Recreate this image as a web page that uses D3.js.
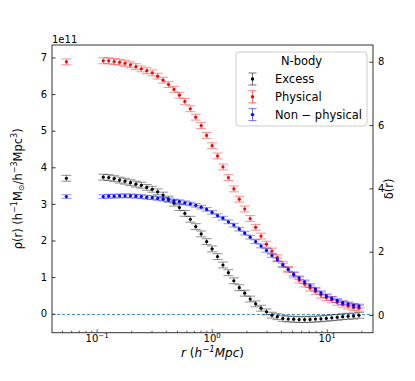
<!DOCTYPE html>
<html>
<head>
<meta charset="utf-8">
<script src="https://cdn.jsdelivr.net/npm/d3@7"></script>
<style>
  body { margin: 0; background: #fff; }
  text { font-family: "DejaVu Sans", sans-serif; fill: #000; }
</style>
</head>
<body>
<div id="chart"></div>
<script>
// radial bins (h^-1 Mpc)
var radii = [0.1130, 0.1260, 0.1405, 0.1566, 0.1747, 0.1948, 0.2172, 0.2422, 0.2700, 0.3011,
  0.3357, 0.3743, 0.4174, 0.4654, 0.5190, 0.5787, 0.6453, 0.7195, 0.8023, 0.8946,
  0.9977, 1.1125, 1.2405, 1.3832, 1.5423, 1.7198, 1.9177, 2.1384, 2.3844, 2.6588,
  2.9648, 3.3059, 3.6862, 4.1105, 4.5834, 5.1108, 5.6989, 6.3546, 7.0858, 7.9012,
  8.8105, 9.8243, 10.955, 12.215, 13.621, 15.188, 16.935, 18.884];

// densities in units of 1e11
var excess = [3.73, 3.72, 3.69, 3.65, 3.62, 3.58, 3.54, 3.51, 3.45, 3.40,
  3.33, 3.24, 3.13, 3.02, 2.90, 2.74, 2.58, 2.38, 2.18, 1.97,
  1.77, 1.56, 1.33, 1.12, 0.90, 0.71, 0.56, 0.40, 0.27, 0.15,
  0.05, -0.04, -0.08, -0.13, -0.145, -0.15, -0.16, -0.16, -0.155, -0.145,
  -0.14, -0.125, -0.11, -0.10, -0.08, -0.07, -0.065, -0.045];

var physical = [6.91, 6.91, 6.89, 6.87, 6.84, 6.80, 6.75, 6.69, 6.64, 6.58,
  6.49, 6.38, 6.26, 6.13, 5.97, 5.80, 5.60, 5.37, 5.14, 4.87,
  4.59, 4.31, 4.01, 3.72, 3.41, 3.13, 2.86, 2.60, 2.36, 2.12,
  1.90, 1.71, 1.53, 1.35, 1.21, 1.06, 0.92, 0.81, 0.70, 0.61,
  0.51, 0.44, 0.38, 0.31, 0.26, 0.21, 0.17, 0.15];

var nonPhysical = [3.20, 3.21, 3.21, 3.22, 3.22, 3.22, 3.21, 3.20, 3.18, 3.17,
  3.15, 3.13, 3.11, 3.08, 3.06, 3.03, 3.00, 2.96, 2.91, 2.85,
  2.77, 2.68, 2.61, 2.51, 2.42, 2.31, 2.20, 2.09, 1.97, 1.85,
  1.73, 1.59, 1.47, 1.33, 1.21, 1.08, 0.98, 0.87, 0.77, 0.67,
  0.57, 0.49, 0.42, 0.36, 0.30, 0.27, 0.23, 0.21];

// innermost bin, drawn apart
var innerR = 0.054;
var innerValues = [3.70, 6.88, 3.20];

var seriesNames = ["Excess", "Physical", "Non \u2212 physical"];
var seriesErr = [0.08, 0.08, 0.05];

var leftTicks = [0, 1, 2, 3, 4, 5, 6, 7];
var rightTicks = [0, 2, 4, 6, 8];
var xMajor = [0.1, 1, 10];
var xMajorExp = ["\u22121", "0", "1"];

var w = 415, h = 381;
var plotL = 52, plotR = 373, plotT = 45, plotB = 332.7;
var colors = ["#000000", "#ff0000", "#0000ff"];

var svg = d3.select("#chart").append("svg")
  .attr("width", w).attr("height", h);

var x = d3.scaleLog().domain([0.0405, 25]).range([plotL, plotR]);
var y = d3.scaleLinear().domain([-0.519, 7.341]).range([plotB, plotT]);
var y2 = d3.scaleLinear().domain([-0.56, 8.53]).range([plotB, plotT]);

// zero line, snapped to the pixel grid so it stays crisp and blue
var zeroY = Math.round(y(0)) + 0.5;
svg.append("line")
  .attr("x1", plotL).attr("x2", plotR)
  .attr("y1", zeroY).attr("y2", zeroY)
  .attr("stroke", "#3d8fd1")
  .attr("stroke-width", 1).attr("stroke-dasharray", "3,2");

var series = [excess, physical, nonPhysical];

function drawPoint(g, cx, v, err, color) {
  var e = g.append("g");
  e.append("line").attr("x1", cx).attr("x2", cx)
    .attr("y1", y(v - err)).attr("y2", y(v + err));
  e.append("line").attr("x1", cx - 5).attr("x2", cx + 5)
    .attr("y1", y(v - err)).attr("y2", y(v - err));
  e.append("line").attr("x1", cx - 5).attr("x2", cx + 5)
    .attr("y1", y(v + err)).attr("y2", y(v + err));
  e.selectAll("line").attr("stroke", color).attr("stroke-opacity", 0.4).attr("stroke-width", 1.1);
  g.append("circle").attr("cx", cx).attr("cy", y(v)).attr("r", 1.6).attr("fill", color);
}

// physical first, then excess and non-physical on top as in the figure
[1, 0, 2].forEach(function(s) {
  var g = svg.append("g").attr("class", "series");
  drawPoint(g, x(innerR), innerValues[s], seriesErr[s], colors[s]);
  series[s].forEach(function(v, i) {
    drawPoint(g, x(radii[i]), v, seriesErr[s], colors[s]);
  });
});

// left axis
var ax = svg.append("g").attr("transform", "translate(" + plotL + ",0)")
  .call(d3.axisLeft(y).tickValues(leftTicks).tickFormat(d3.format("d")).tickSize(-3.5).tickPadding(5));
ax.select(".domain").remove();
ax.attr("font-family", null).attr("font-size", null);
ax.selectAll("text").style("font-size", "10px");
ax.selectAll("line").attr("stroke", "#333");

// right axis
var ax2 = svg.append("g").attr("transform", "translate(" + plotR + ",0)")
  .call(d3.axisRight(y2).tickValues(rightTicks).tickFormat(d3.format("d")).tickSize(-3.5).tickPadding(5));
ax2.select(".domain").remove();
ax2.attr("font-family", null).attr("font-size", null);
ax2.selectAll("text").style("font-size", "10px");
ax2.selectAll("line").attr("stroke", "#333");

// bottom log axis: minor + major ticks drawn inward
var minor = [];
[0.01, 0.1, 1, 10].forEach(function(d) {
  for (var k = 2; k <= 9; k++) {
    var t = d * k;
    if (t > x.domain()[0] && t < x.domain()[1]) minor.push(t);
  }
});
var bx = svg.append("g").attr("transform", "translate(0," + plotB + ")");
bx.selectAll("line.minor").data(minor).enter().append("line")
  .attr("x1", function(d) { return x(d); }).attr("x2", function(d) { return x(d); })
  .attr("y1", 0).attr("y2", -2).attr("stroke", "#333").attr("stroke-width", 0.8);
bx.selectAll("line.major").data(xMajor).enter().append("line")
  .attr("x1", function(d) { return x(d); }).attr("x2", function(d) { return x(d); })
  .attr("y1", 0).attr("y2", -3.5).attr("stroke", "#333").attr("stroke-width", 0.8);
var lbl = bx.selectAll("text.xt").data(xMajor).enter().append("text")
  .attr("x", function(d) { return x(d); }).attr("y", 9.5)
  .attr("text-anchor", "middle").style("font-size", "10px");
lbl.append("tspan").text("10");
lbl.append("tspan").attr("dy", -4).style("font-size", "7px")
  .text(function(d, i) { return xMajorExp[i]; });

// frame
svg.append("rect").attr("x", plotL).attr("y", plotT)
  .attr("width", plotR - plotL).attr("height", plotB - plotT)
  .attr("fill", "none").attr("stroke", "#333").attr("stroke-width", 1);

// offset label
svg.append("text").attr("x", plotL).attr("y", 43).style("font-size", "10px").text("1e11");

// axis labels
var xl = svg.append("text").attr("x", (plotL + plotR) / 2).attr("y", 357)
  .attr("text-anchor", "middle").style("font-size", "12px");
xl.append("tspan").style("font-style", "italic").text("r");
xl.append("tspan").text(" (");
xl.append("tspan").style("font-style", "italic").text("h");
xl.append("tspan").attr("dy", -5).style("font-size", "8.5px").style("font-style", "italic").text("\u22121");
xl.append("tspan").attr("dy", 5).style("font-style", "italic").text("Mpc");
xl.append("tspan").text(")");

var yl = svg.append("text")
  .attr("transform", "translate(22," + ((plotT + plotB) / 2) + ") rotate(-90)")
  .attr("text-anchor", "middle").style("font-size", "11.5px");
yl.append("tspan").text("\u03c1(r) (h");
yl.append("tspan").attr("dy", -5).style("font-size", "8px").text("\u22121");
yl.append("tspan").attr("dy", 5).text("M");
yl.append("tspan").attr("dy", 2).style("font-size", "8px").text("\u2299");
yl.append("tspan").attr("dy", -2).text("/h");
yl.append("tspan").attr("dy", -5).style("font-size", "8px").text("\u22123");
yl.append("tspan").attr("dy", 5).text("Mpc");
yl.append("tspan").attr("dy", -5).style("font-size", "8px").text("3");
yl.append("tspan").attr("dy", 5).text(")");

svg.append("text")
  .attr("transform", "translate(393," + ((plotT + plotB) / 2) + ") rotate(-90)")
  .attr("text-anchor", "middle").style("font-size", "11.5px").text("\u03b4(r)");

// legend
var lg = svg.append("g").attr("transform", "translate(236,52)");
lg.append("rect").attr("width", 131).attr("height", 74).attr("rx", 3)
  .attr("fill", "#fff").attr("fill-opacity", 0.8).attr("stroke", "#ccc");
lg.append("text").attr("x", 65.5).attr("y", 13).attr("text-anchor", "middle")
  .style("font-size", "11.5px").text("N-body");
seriesNames.forEach(function(name, i) {
  var cy = 27 + i * 17.8;
  var hx = 16.5;
  var hg = lg.append("g");
  hg.append("line").attr("x1", hx).attr("x2", hx).attr("y1", cy - 6).attr("y2", cy + 6);
  hg.append("line").attr("x1", hx - 4).attr("x2", hx + 4).attr("y1", cy - 6).attr("y2", cy - 6);
  hg.append("line").attr("x1", hx - 4).attr("x2", hx + 4).attr("y1", cy + 6).attr("y2", cy + 6);
  hg.selectAll("line").attr("stroke", colors[i]).attr("stroke-opacity", 0.55).attr("stroke-width", 1);
  hg.append("circle").attr("cx", hx).attr("cy", cy).attr("r", 1.7).attr("fill", colors[i]);
  lg.append("text").attr("x", 39).attr("y", cy + 4).style("font-size", "11.5px").text(name);
});
</script>
</body>
</html>
